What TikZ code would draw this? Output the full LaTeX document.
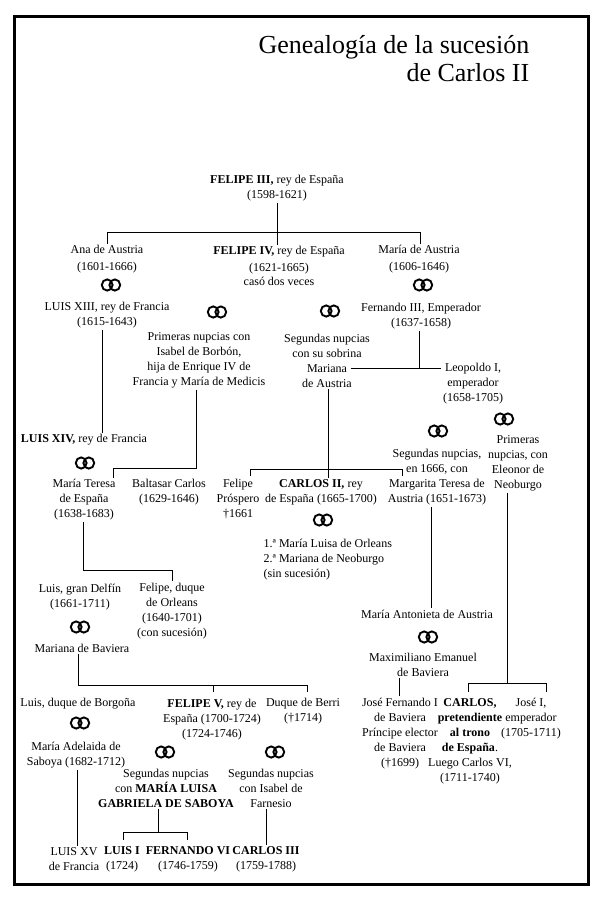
\documentclass[tikz,border=0pt]{standalone}
\usepackage{fontspec}
\setmainfont{Liberation Serif}
\begin{document}
\begin{tikzpicture}[x=1pt,y=-1pt,
  every node/.style={font=\fontsize{12}{15}\selectfont, align=center, inner sep=1.5pt},
  wide/.style={font=\fontsize{12}{17}\selectfont},
  conn/.style={line width=0.9pt},
  rings/.pic={\draw[line width=1.9pt] (-3.8,0) circle[x radius=5.4pt, y radius=5.6pt];
              \draw[line width=1.9pt] (3.8,0) circle[x radius=5.4pt, y radius=5.6pt];}
]
\useasboundingbox (0,0) rectangle (600,900);
\fill[white] (0,0) rectangle (600,900);
\draw[line width=3pt] (14,16) rectangle (588,884);

% title
\node[anchor=east, align=right, font=\fontsize{26}{28}\selectfont] (title) at (531,59)
  {Genealogía de la sucesión\\de Carlos II};

% generation 1
\node (f3) at (277,188) {\textbf{FELIPE III,} rey de España\\(1598-1621)};

% generation 2
\node[wide] (ana) at (107,259.5) {Ana de Austria\\(1601-1666)};
\node[wide] (f4) at (279,266) {\textbf{FELIPE IV,} rey de España\\(1621-1665)\\[-3pt]casó dos veces};
\node[wide] (maria) at (419,259.5) {María de Austria\\(1606-1646)};
\pic at (111,285) {rings};
\pic at (423,285) {rings};
\node (luis13) at (107,315.5) {LUIS XIII, rey de Francia\\(1615-1643)};
\node (fern3) at (421,316.5) {Fernando III, Emperador\\(1637-1658)};
\pic at (217,312) {rings};
\pic at (330,311) {rings};
\node (prim) at (199,360.5) {Primeras nupcias con\\Isabel de Borbón,\\hija de Enrique IV de\\Francia y María de Medicis};
\node (seg) at (327,361) {Segundas nupcias\\con su sobrina\\Mariana\\de Austria};
\node (leo) at (473,383.5) {Leopoldo I,\\emperador\\(1658-1705)};
\pic at (504,419) {rings};
\pic at (438,431) {rings};
\node (marg) at (437,477) {Segundas nupcias,\\en 1666, con\\Margarita Teresa de\\Austria (1651-1673)};
\node (eleo) at (518,463.5) {Primeras\\nupcias, con\\Eleonor de\\Neoburgo};

% generation 3
\node (l14) at (84,440) {\textbf{LUIS XIV,} rey de Francia};
\pic at (85,463) {rings};
\node (mt) at (84,500) {María Teresa\\de España\\(1638-1683)};
\node (bc) at (169,492) {Baltasar Carlos\\(1629-1646)};
\node (fp) at (238,499.5) {Felipe\\Próspero\\†1661};
\node (c2) at (321,492) {\textbf{CARLOS II,} rey\\de España (1665-1700)};
\pic at (323,520) {rings};
\node[anchor=west, align=left] (c2w) at (262,560) {1.ª María Luisa de Orleans\\2.ª Mariana de Neoburgo\\(sin sucesión)};

% generation 4
\node (delfin) at (80,597) {Luis, gran Delfín\\(1661-1711)};
\pic at (80,627) {rings};
\node (mbav) at (82,648) {Mariana de Baviera};
\node (fo) at (172,611) {Felipe, duque\\de Orleans\\(1640-1701)\\(con sucesión)};
\node (mant) at (427,614) {María Antonieta de Austria};
\pic at (428,637) {rings};
\node (maxe) at (423,664.5) {Maximiliano Emanuel\\de Baviera};

% generation 5
\node (lborg) at (78,704) {Luis, duque de Borgoña};
\pic at (80,723) {rings};
\node (mad) at (76,755.5) {María Adelaida de\\Saboya (1682-1712)};
\node (f5) at (212,719.5) {\textbf{FELIPE V,} rey de\\España (1700-1724)\\(1724-1746)};
\node (berri) at (303,711.5) {Duque de Berri\\(†1714)};
\node (jf) at (400,733.5) {José Fernando I\\de Baviera\\Príncipe elector\\de Baviera\\(†1699)};
\node (carlos) at (470,741) {\textbf{CARLOS,}\\\textbf{pretendiente}\\\textbf{al trono}\\\textbf{de España}.\\Luego Carlos VI,\\(1711-1740)};
\node (jose1) at (531,719) {José I,\\emperador\\(1705-1711)};
\pic at (165,752) {rings};
\pic at (275,752) {rings};
\node (mlg) at (166,788) {Segundas nupcias\\con \textbf{MARÍA LUISA}\\\textbf{GABRIELA DE SABOYA}};
\node (isf) at (271,788) {Segundas nupcias\\con Isabel de\\Farnesio};

% generation 6
\node (l15) at (74,859.5) {LUIS XV\\de Francia};
\node (l1) at (122,859.5) {\textbf{LUIS I}\\(1724)};
\node (f6) at (188,859.5) {\textbf{FERNANDO VI}\\(1746-1759)};
\node (c3) at (266,859.5) {\textbf{CARLOS III}\\(1759-1788)};

% connector helper coordinates
\coordinate (bus1) at (0,232);
\coordinate (bus2) at (0,468);
\coordinate (bus3) at (0,368);
\coordinate (bus4) at (0,469);
\coordinate (bus5) at (0,570);
\coordinate (bus6) at (0,685);
\coordinate (bus7) at (0,683);
\coordinate (bus8) at (0,832);
\coordinate (tick6) at (0,692);
\coordinate (tick7) at (0,692);
\coordinate (tick4) at (0,476);
\coordinate (tick8) at (0,840);

\coordinate (anaT) at ([xshift=0pt]ana.north);
\coordinate (mariaT) at ([xshift=1pt]maria.north);
\coordinate (l13B) at ([xshift=-5pt]luis13.south);
\coordinate (primB) at ([xshift=-3pt]prim.south);
\coordinate (mtT) at ([xshift=29pt]mt.north);
\coordinate (fern3B) at ([xshift=-2pt]fern3.south);
\coordinate (marianaR) at (351,368);
\coordinate (segB) at ([xshift=1pt]seg.south);
\coordinate (fpT) at (250,0);
\coordinate (margT) at (402,0);
\coordinate (mtB) at ([xshift=-1pt]mt.south);
\coordinate (mbavB) at ([xshift=-4pt]mbav.south);
\coordinate (f5T) at (213,0);
\coordinate (berriT) at (307,0);
\coordinate (margB) at ([xshift=-6pt]marg.south);
\coordinate (maxeB) at ([xshift=-24pt]maxe.south);
\coordinate (eleoB) at ([xshift=-11pt]eleo.south);
\coordinate (carlosT) at (468,0);
\coordinate (jose1T) at (546,0);
\coordinate (madB) at ([xshift=1pt]mad.south);
\coordinate (mlgB) at ([xshift=-8pt]mlg.south);
\coordinate (l1T) at (123,0);
\coordinate (f6T) at (187,0);
\coordinate (isfB) at ([xshift=-5pt]isf.south);

% connectors
\draw[conn] (f3.south) -- (f3.south |- f4.north);
\draw[conn] (anaT) -- (anaT |- bus1) -- (mariaT |- bus1) -- (mariaT);
\draw[conn] (l13B) -- (l13B |- l14.north);
\draw[conn] (primB) -- (primB |- bus2) -- (mtT |- bus2) -- (mtT);
\draw[conn] (fern3B) -- (fern3B |- bus3);
\draw[conn] (marianaR) -- (leo.west |- bus3);
\draw[conn] (segB) -- (segB |- c2.north);
\draw[conn] (fpT |- tick4) -- (fpT |- bus4) -- (margT |- bus4) -- (margT |- tick4);
\draw[conn] (mtB) -- (mtB |- bus5) -- (fo.north |- bus5) -- (fo.north);
\draw[conn] (mbavB) -- (mbavB |- bus6) -- (berriT |- bus6) -- (berriT |- tick6);
\draw[conn] (f5T |- bus6) -- (f5T |- tick6);
\draw[conn] (margB) -- (margB |- mant.north);
\draw[conn] (maxeB) -- (maxeB |- jf.north);
\draw[conn] (eleoB) -- (eleoB |- bus7);
\draw[conn] (carlosT |- tick7) -- (carlosT |- bus7) -- (jose1T |- bus7) -- (jose1T |- tick7);
\draw[conn] (madB) -- (madB |- l15.north);
\draw[conn] (mlgB) -- (mlgB |- bus8);
\draw[conn] (l1T |- tick8) -- (l1T |- bus8) -- (f6T |- bus8) -- (f6T |- tick8);
\draw[conn] (isfB) -- (isfB |- c3.north);
\end{tikzpicture}
\end{document}
